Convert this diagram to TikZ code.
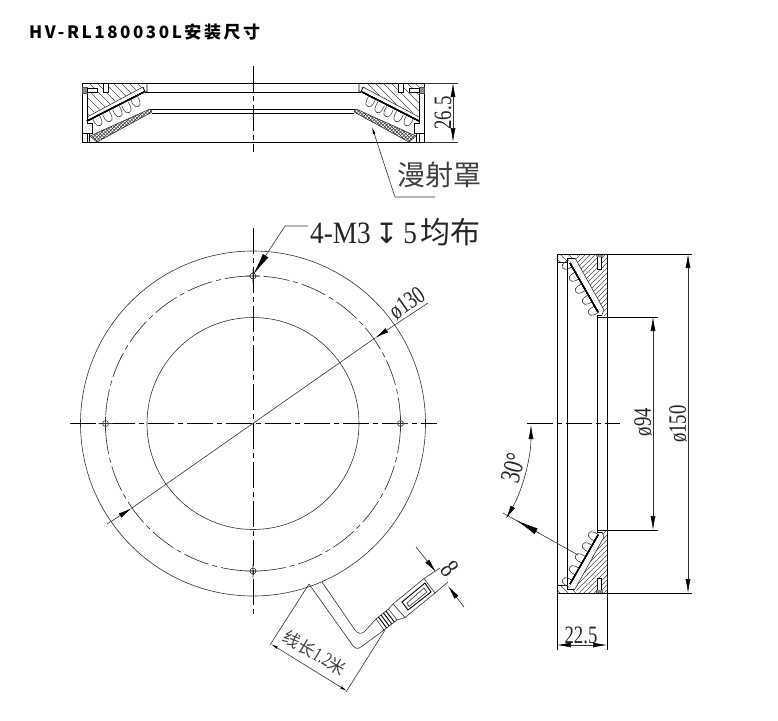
\documentclass[tikz,border=0pt]{standalone}
\usepackage{fontspec}
\usepackage{tikz}
\usepackage{xcolor}
\usetikzlibrary{arrows.meta,calc}
\newfontfamily\cadfont[FakeStretch=0.75]{Liberation Serif}
\newfontfamily\cadwidefont[FakeStretch=0.88]{Liberation Serif}
\newfontfamily\depthfont{DejaVu Sans}
\newfontfamily\cjkfont{Noto Sans CJK SC}
\newcommand{\ledbump}[3]{\draw[bump-line, shift={(#1,#2)}, rotate=#3] (-3.8,0) -- (-3.8,5) .. controls (-3.8,11) and (3.8,11) .. (3.8,5) -- (3.8,0);}
\tikzset{
    outline-line/.style = {draw=black, line width=0.9pt},
    thin-line/.style = {draw=black!80, line width=0.6pt},
    bump-line/.style = {draw=black!75, line width=0.6pt},
    hatch-line/.style = {draw=black!70, line width=0.45pt},
    strip-line/.style = {draw=black, line width=1.2pt},
    centre-line/.style = {draw=black, line width=0.8pt, dash pattern=on 26pt off 4pt on 5pt off 4pt},
    bolt-line/.style = {draw=black!85, line width=0.6pt, dash pattern=on 26pt off 4pt on 5pt off 4pt},
    dim-line/.style = {draw=black!80, line width=0.6pt, >={Latex[length=14pt,width=5pt,black]}},
    big-dim-line/.style = {draw=black!80, line width=0.6pt, >={Latex[length=23pt,width=6.5pt,black]}},
    small-dim-line/.style = {draw=black!80, line width=0.6pt, >={Latex[length=7pt,width=2.6pt,black]}},
    dim-text/.style = {font=\cadfont\fontsize{25}{25}\selectfont, text=black!85, inner sep=0pt},
    cjk-text/.style = {text=black!75, inner sep=0pt},
}
\begin{document}
\begin{tikzpicture}[x=1pt,y=-1pt]
\useasboundingbox (0,0) rectangle (778,720);

\node[anchor=base west, inner sep=0pt, font=\cjkfont\bfseries\fontsize{17}{17}\selectfont] (title) at (29,38) {\addfontfeature{LetterSpace=15}HV-RL180030L安装尺寸};

\draw[outline-line] (82,83) rectangle (424,142);
\draw[outline-line] (145,92) -- (361,92);
\draw[outline-line] (151,109) -- (355,109);
\draw[outline-line] (152,113) -- (354,113);
\draw[centre-line] (253,66) -- (253,152);
\foreach \flip/\off in {1/0,-1/506}{
\begin{scope}[xshift=\off pt, xscale=\flip]
\begin{scope}
\clip (87,84) -- (140,84) -- (143,87) -- (87,116) -- cycle;
\foreach \k in {66,74,...,162}
    \draw[hatch-line] (\k,100) ++(-30*\flip,-30) -- ++(60*\flip,60);
\end{scope}
\draw[outline-line] (87,88) -- (87,123) -- (92,123) -- (92,133) -- (82,133);
\draw[outline-line] (87,133) -- (87,142) (89.5,133) -- (89.5,142);
\draw[outline-line] (147,83) -- (147,92) -- (145,92) -- (143,87);
\draw[thin-line] (87,117) -- (143,87);
\foreach \bx/\by in {96/117,106/113,116/108,125/104,134/98}
    \ledbump{\bx}{\by}{27}
\draw[strip-line] (87,121) -- (144,92);
\begin{scope}
\clip (90,136) -- (150,109) -- (152,112) -- (97,142) -- cycle;
\foreach \k in {60,63.5,...,180}
    \draw[thin-line] (\k,125) ++(-20,-20) -- ++(40,40) (\k,125) ++(-20,20) -- ++(40,-40);
\end{scope}
\draw[thin-line] (90,136) -- (150,109) -- (152,112) -- (97,142) -- cycle;
\draw[hatch-line, fill=black!45] (82,87) rectangle (87,93);
\draw[outline-line, fill=white] (87,88) rectangle (97,92);
\draw[outline-line, fill=white] (103,83) rectangle (108,92);
\end{scope}
}
\coordinate (h-top) at (458,83);
\coordinate (h-bot) at (458,142);
\draw[thin-line] (424,83) -- (h-top) (424,142) -- (h-bot);
\draw[dim-line,<->] (453,83) -- (453,142);
\node[dim-text, rotate=90] (h-label) at (443,113) {26.5};

\coordinate (cover-tip) at (372,127);
\coordinate (cover-elbow) at (395,197);
\draw[small-dim-line,<-] (cover-tip) -- (cover-elbow) -- (435,197);
\node[cjk-text, font=\cjkfont\fontsize{28}{28}\selectfont] (cover-label) at (439,175) {漫射罩};

\coordinate (ctr) at (253,423.5);
\draw[thin-line] (ctr) circle[radius=172.5pt];
\draw[thin-line] (ctr) circle[radius=106pt];
\draw[bolt-line] (ctr) circle[radius=147.5pt];
\draw[centre-line] (70,423.5) -- (437,423.5);
\draw[centre-line] (253,228) -- (253,617);
\foreach \hx/\hy in {253/276,253/571,105.5/423.5,400.5/423.5}
    \draw[thin-line] (\hx,\hy) circle[radius=3pt] (\hx-7,\hy) -- (\hx+7,\hy) (\hx,\hy-7) -- (\hx,\hy+7);

\coordinate (hole-tip) at (253,275);
\coordinate (hole-elbow) at (285,226);
\draw[big-dim-line,<-] (hole-tip) -- (hole-elbow) -- (308,226);
\node[anchor=base west, inner sep=0pt, text=black!85] (hole-label) at (310,243) {\cadwidefont\fontsize{31}{31}\selectfont 4-M3\hspace{4pt}\depthfont\fontsize{28}{28}\selectfont ↧\hspace{5pt}\cadwidefont\fontsize{31}{31}\selectfont 5\hspace{4pt}\cjkfont\fontsize{30}{30}\selectfont 均布};

\coordinate (pcd-a) at (132,508);
\coordinate (pcd-b) at (375,338);
\draw[dim-line,->] (428,303) -- (pcd-b);
\draw[dim-line,->] (107,524) -- (pcd-a);
\draw[thin-line] (pcd-a) -- (pcd-b);
\node[dim-text, rotate=35] (pcd-label) at (407,303) {ø130};

\foreach \sy/\off in {1/0,-1/-847}{
\begin{scope}[yshift=\off pt, yscale=\sy]
\begin{scope}
\clip (575,258) -- (579,254) -- (607,254) -- (607,317) -- (602,315) -- (604,310) -- cycle;
\foreach \k in {540,545,...,640}
    \draw[hatch-line] (\k,285) ++(-70,70*\sy) -- ++(140,-140*\sy);
\end{scope}
\begin{scope}
\clip (557,254) -- (579,254) -- (575,258) -- (567,258) -- (567,262) -- (557,262) -- cycle;
\foreach \k in {540,548,...,600}
    \draw[hatch-line] (\k,258) ++(-20,-20*\sy) -- ++(40,40*\sy);
\end{scope}
\draw[outline-line] (557,262) -- (567,262) (567,258) -- (575,258);
\draw[thin-line] (575,258) -- (604,310) -- (602,315);
\foreach \bx/\by in {571/263,578/275,584/287,591/298,597/309}
    \ledbump{\bx}{\by}{-61}
\draw[strip-line] (570,263) -- (598,312);
\draw[outline-line] (597,317) -- (597,315) -- (602,315);
\draw[outline-line] (597,317) -- (658,317);
\draw[outline-line, fill=white] (597,256) rectangle (601.5,269);
\draw[hatch-line, fill=black!45] (596,254) -- (603,254) -- (602,257) -- (597,257) -- cycle;
\end{scope}
}
\draw[outline-line] (557,254) -- (692,254);
\draw[outline-line] (557,593) -- (692,593);
\draw[outline-line] (557,254) -- (557,650);
\draw[outline-line] (607,254) -- (607,650);
\draw[outline-line] (567,258) -- (567,589);
\draw[outline-line] (597,317) -- (597,530);
\draw[centre-line] (527,423.5) -- (620,423.5);

\draw[dim-line,<->] (653,317) -- (653,530);
\draw[dim-line,<->] (688,254) -- (688,593);
\node[dim-text, rotate=90] (bore-label) at (643,422) {ø94};
\node[dim-text, rotate=90] (dia-label) at (678,424) {ø150};
\draw[dim-line,<->] (557,645) -- (607,645);
\node[dim-text] (width-label) at (581,635) {22.5};

\coordinate (tilt-end) at (503,513);
\coordinate (tilt-led) at (578,555);
\draw[thin-line] (tilt-end) -- (tilt-led);
\draw[big-dim-line,<-] (516,520) -- (539,533);
\draw[dim-line,<->] (531,425) arc[start angle=0, end angle=-30, radius=188pt];
\node[dim-text, rotate=75, font=\cadfont\fontsize{28}{28}\selectfont] (tilt-label) at (513,468) {30°};

\draw[thin-line] (309,584) -- (351,643) .. controls (354,648) and (357,650) .. (361,647) -- (384,630);
\draw[thin-line] (322,582) -- (355,630) .. controls (358,634) and (361,634) .. (364,632) -- (376,619);
\draw[thin-line] (376,619) -- (388.5,609) -- (397,620) -- (384,630) -- cycle;
\foreach \t in {0.2,0.4,0.6,0.8}
    \draw[outline-line] ($(376,619)!\t!(388.5,609)$) -- ($(384,630)!\t!(397,620)$);
\draw[thin-line] (388.5,609) -- (393,604) -- (405,617.5) -- (397,620);
\draw[thin-line] (393,604) -- (424,578.5) -- (435,593) -- (405,617.5);
\draw[outline-line] (402,602) -- (425,583) -- (431,592) -- (408,610) -- cycle;
\draw[thin-line] (407,603) -- (424,588) -- (427,592) -- (409,606.5) -- cycle;

\coordinate (len-a) at (271,644);
\coordinate (len-b) at (347,691);
\draw[thin-line] (309,584) -- (270,645) (385,630) -- (346,692);
\draw[small-dim-line,<->] (len-a) -- (len-b);
\node[cjk-text, rotate=-31] (len-label) at (315,653) {\cjkfont\fontsize{17}{17}\selectfont 线长\cadfont\fontsize{20}{20}\selectfont 1.2\cjkfont\fontsize{17}{17}\selectfont 米};

\coordinate (plug-a) at (436,572);
\coordinate (plug-b) at (448,586);
\draw[thin-line] (424,578.5) -- (440,568) (435,593) -- (448,582);
\draw[dim-line,->] (416,547) -- (plug-a);
\draw[dim-line,->] (464,607) -- (plug-b);
\node[dim-text, rotate=-51, font=\cadfont\fontsize{28}{28}\selectfont] (plug-label) at (450,569) {8};
\end{tikzpicture}
\end{document}
